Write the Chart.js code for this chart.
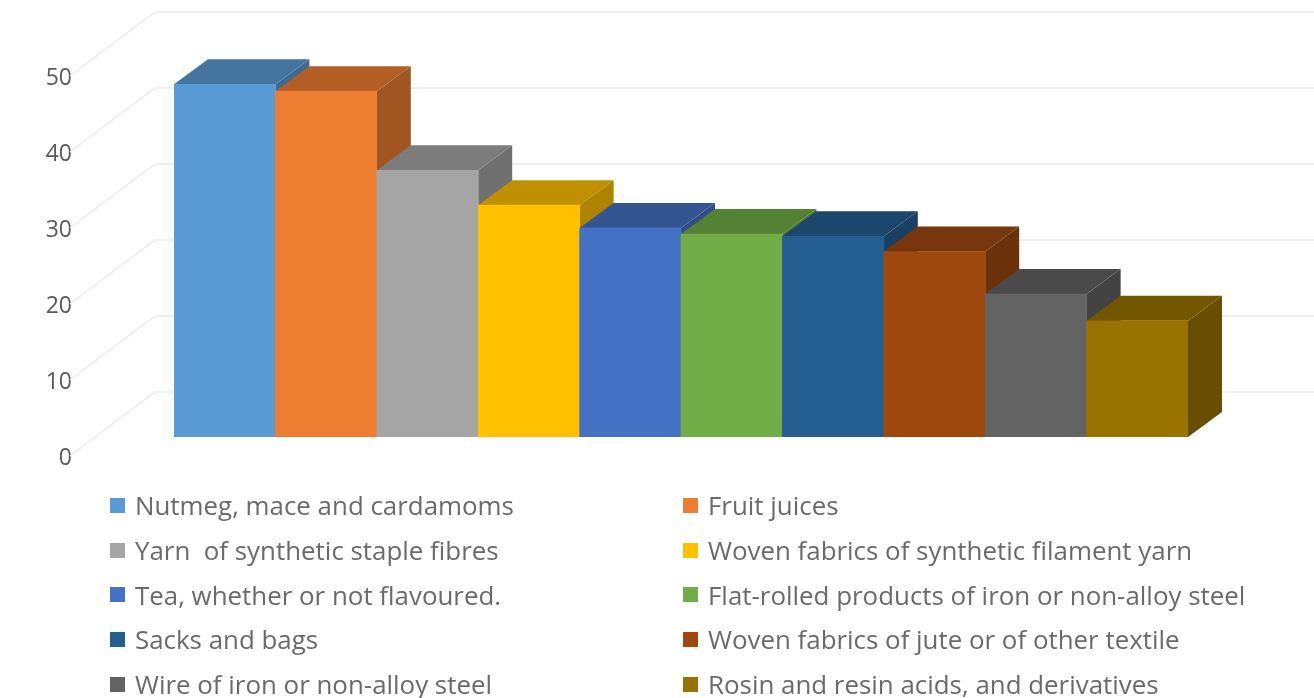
<!DOCTYPE html>
<html lang="en">
<head>
    <meta charset="UTF-8">
    <title>Exports by product</title>
    <script src="https://cdn.jsdelivr.net/npm/chart.js"></script>
    <style>
        body {
            margin: 0;
            background-color: white;
        }

        .wrap {
            position: relative;
            width: 1314px;
            height: 698px;
            overflow: hidden;
        }

        #legend {
            position: absolute;
            left: 110px;
            top: 483px;
            display: grid;
            grid-template-columns: 573px auto;
            grid-auto-rows: 44.7px;
            font-family: "Open Sans", sans-serif;
            font-size: 25.9px;
            color: #6a6a6a;
        }

        .item {
            display: flex;
            align-items: center;
            white-space: pre;
        }

        .swatch {
            width: 15px;
            height: 15px;
            margin-right: 10px;
        }
    </style>
</head>
<body>
    <div class="wrap">
        <canvas id="chart" width="1314" height="698"></canvas>
        <div id="legend"></div>
    </div>

    <script>
        const categories = [
            'Nutmeg, mace and cardamoms',
            'Fruit juices',
            'Yarn  of synthetic staple fibres',
            'Woven fabrics of synthetic filament yarn',
            'Tea, whether or not flavoured.',
            'Flat-rolled products of iron or non-alloy steel',
            'Sacks and bags',
            'Woven fabrics of jute or of other textile',
            'Wire of iron or non-alloy steel',
            'Rosin and resin acids, and derivatives'
        ];
        const values = [46.4, 45.5, 35.1, 30.5, 27.5, 26.7, 26.4, 24.4, 18.8, 15.3];
        const colors = ['#5B9BD5', '#ED7D31', '#A5A5A5', '#FFC000', '#4472C4', '#70AD47', '#255E91', '#9E480E', '#636363', '#997300'];
        const tickStep = 10;
        const axisMax = 50;

        // depth of the bars and of the back wall, in pixels
        const barDepth = { x: 34, y: 25 };
        const wallBack = { x: 155, y: 45 };
        const wallFront = { x: 70, y: 19 };

        function shade(hex, f) {
            const n = parseInt(hex.slice(1), 16);
            const r = Math.round((n >> 16) * f);
            const g = Math.round(((n >> 8) & 255) * f);
            const b = Math.round((n & 255) * f);
            return 'rgb(' + r + ',' + g + ',' + b + ')';
        }

        function poly(ctx, pts, fill) {
            ctx.beginPath();
            ctx.moveTo(pts[0][0], pts[0][1]);
            pts.slice(1).forEach(p => ctx.lineTo(p[0], p[1]));
            ctx.closePath();
            ctx.fillStyle = fill;
            ctx.fill();
        }

        // back wall lines and floor/side diagonals
        const wallPlugin = {
            id: 'wall',
            beforeDatasetsDraw(chart) {
                const ctx = chart.ctx;
                const y = chart.scales.y;
                ctx.save();
                ctx.strokeStyle = '#ececec';
                ctx.lineWidth = 1.5;
                y.ticks.forEach(t => {
                    const py = y.getPixelForValue(t.value);
                    ctx.beginPath();
                    ctx.moveTo(wallFront.x, py + wallFront.y);
                    ctx.lineTo(wallBack.x, py - wallBack.y);
                    ctx.lineTo(chart.width, py - wallBack.y);
                    ctx.stroke();
                });
                ctx.restore();
            }
        };

        // top and right faces, the library draws the front faces over them
        const depthPlugin = {
            id: 'depth',
            beforeDatasetsDraw(chart) {
                const ctx = chart.ctx;
                chart.getDatasetMeta(0).data.forEach((bar, i) => {
                    const l = bar.x - bar.width / 2;
                    const r = bar.x + bar.width / 2;
                    const dx = barDepth.x;
                    const dy = barDepth.y;
                    poly(ctx, [[r, bar.y], [r + dx, bar.y - dy], [r + dx, bar.base - dy], [r, bar.base]], shade(colors[i], 0.68));
                    poly(ctx, [[l, bar.y], [l + dx, bar.y - dy], [r + dx, bar.y - dy], [r, bar.y]], shade(colors[i], 0.75));
                });
            }
        };

        new Chart(document.getElementById('chart'), {
            type: 'bar',
            data: {
                labels: categories,
                datasets: [{
                    data: values,
                    backgroundColor: colors,
                    barPercentage: 1,
                    categoryPercentage: 1
                }]
            },
            options: {
                responsive: false,
                animation: false,
                layout: { autoPadding: false, padding: { top: 57, right: 126, bottom: 261, left: 0 } },
                plugins: {
                    legend: { display: false },
                    tooltip: { enabled: false }
                },
                scales: {
                    x: { display: false },
                    y: {
                        min: 0,
                        max: axisMax,
                        // the big tick padding would otherwise be added above the axis too
                        afterFit(scale) {
                            scale.width = 174;
                            scale.paddingTop = 0;
                            scale.paddingBottom = 0;
                        },
                        border: { display: false },
                        grid: { display: false, drawTicks: false },
                        ticks: {
                            stepSize: tickStep,
                            padding: 102,
                            labelOffset: 21,
                            color: '#595959',
                            font: { family: '"Open Sans", sans-serif', size: 23 }
                        }
                    }
                }
            },
            plugins: [wallPlugin, depthPlugin]
        });

        // two column legend
        const legend = document.getElementById('legend');
        categories.forEach((name, i) => {
            const item = document.createElement('div');
            item.className = 'item';
            const swatch = document.createElement('span');
            swatch.className = 'swatch';
            swatch.style.backgroundColor = colors[i];
            item.appendChild(swatch);
            item.appendChild(document.createTextNode(name));
            legend.appendChild(item);
        });
    </script>
</body>
</html>
